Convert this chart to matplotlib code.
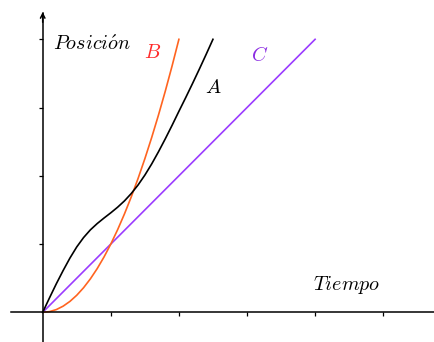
import matplotlib
matplotlib.use('Agg')
from matplotlib import pyplot as plt

plt.rcParams['mathtext.fontset'] = 'cm'

# curva A
a_x = [0, 0.1, 0.2, 0.3, 0.4, 0.5, 0.6, 0.7, 0.8, 0.9, 1.0, 1.1, 1.2, 1.3,
       1.4, 1.5, 1.6, 1.7, 1.8, 1.9, 2.0, 2.1, 2.2, 2.3, 2.4, 2.5]
a_y = [0, 0.212, 0.418, 0.612, 0.795, 0.958, 1.095, 1.208, 1.30, 1.381,
       1.458, 1.54, 1.632, 1.74, 1.865, 2.01, 2.173, 2.352, 2.542, 2.740,
       2.945, 3.146, 3.352, 3.563, 3.779, 4.0]

# curva B
b_x = [0, 0.1, 0.2, 0.3, 0.4, 0.5, 0.6, 0.7, 0.8, 0.9, 1.0, 1.1, 1.2, 1.3,
       1.4, 1.5, 1.6, 1.7, 1.8, 1.9, 2.0]
b_y = [0, 0.01, 0.04, 0.09, 0.16, 0.25, 0.36, 0.49, 0.64, 0.81, 1.0, 1.21,
       1.44, 1.69, 1.96, 2.25, 2.56, 2.89, 3.24, 3.61, 4.0]

# recta C
c_x = [0, 4]
c_y = [0, 4]

xticks = [1, 2, 3, 4, 5]
yticks = [1, 2, 3, 4]

fig = plt.figure(figsize=(4.34, 3.42), dpi=100)
ax = fig.add_axes([0, 0, 1, 1])
ax.set_xlim(-0.627, 5.746)
ax.set_ylim(-0.435, 4.576)

ax.plot(c_x, c_y, color='#9B3CFF', lw=1.2)
ax.plot(b_x, b_y, color='#FF6420', lw=1.2)
ax.plot(a_x, a_y, color='black', lw=1.2)

# ejes
for s in ['top', 'right']:
    ax.spines[s].set_visible(False)
ax.spines['left'].set_position(('data', 0))
ax.spines['bottom'].set_position(('data', 0))
ax.spines['left'].set_bounds(-0.435, 4.39)
ax.spines['bottom'].set_bounds(-0.465, 5.746)
ax.spines['left'].set_linewidth(1.1)
ax.spines['bottom'].set_linewidth(1.1)
ax.set_xticks(xticks)
ax.set_yticks(yticks)
ax.set_xticklabels([])
ax.set_yticklabels([])
ax.tick_params(direction='out', length=3, width=0.9)
ax.annotate('', xy=(0, 4.40), xytext=(0, 4.25),
            arrowprops=dict(arrowstyle='->', lw=1.1, color='black',
                            shrinkA=0, shrinkB=0, mutation_scale=8))

fs = 14.5
ax.text(0.15, 3.92, r'$Posici\acute{o}n$', fontsize=fs, va='center', ha='left')
ax.text(1.62, 3.81, r'$B$', fontsize=fs, color='#FF2A2A', va='center', ha='center')
ax.text(2.51, 3.29, r'$A$', fontsize=fs, color='black', va='center', ha='center')
ax.text(3.19, 3.76, r'$C$', fontsize=fs, color='#8A2BE2', va='center', ha='center')
ax.text(4.46, 0.40, r'$Tiempo$', fontsize=fs, va='center', ha='center')

fig.savefig('out.png', dpi=100)
